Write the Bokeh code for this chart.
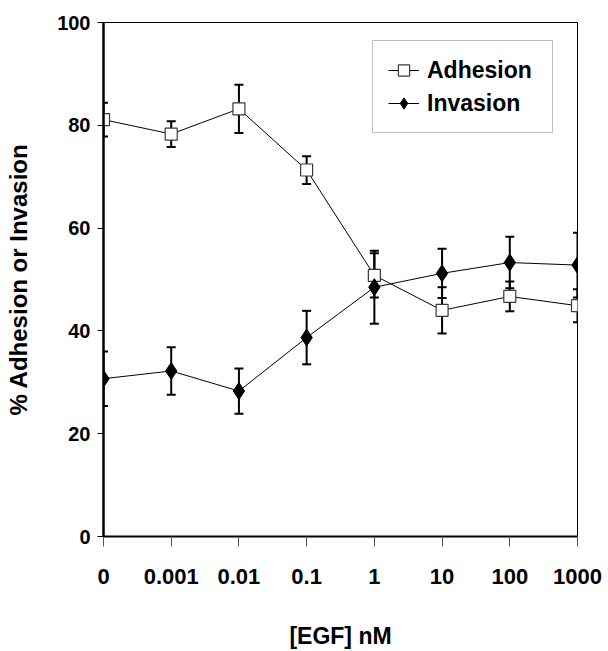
from bokeh.plotting import figure
from bokeh.models import FixedTicker, ColumnDataSource, Legend, LegendItem, Range1d
from bokeh.embed import file_html
from bokeh.resources import INLINE

categories = ["0", "0.001", "0.01", "0.1", "1", "10", "100", "1000"]
adhesion = [81.1, 78.3, 83.2, 71.3, 50.8, 44.0, 46.7, 44.9]
adhesion_err = [3.3, 2.5, 4.7, 2.7, 4.3, 4.5, 2.9, 3.2]
invasion = [30.7, 32.2, 28.3, 38.7, 48.5, 51.2, 53.3, 52.8]
invasion_err = [5.3, 4.6, 4.4, 5.2, 7.1, 4.8, 5.0, 6.3]
y_ticks = [0, 20, 40, 60, 80, 100]

FONT = "Liberation Sans"
xs = list(range(len(categories)))

def src(vals, errs):
    return ColumnDataSource(dict(
        x=xs, y=vals,
        lo=[v - e for v, e in zip(vals, errs)],
        hi=[v + e for v, e in zip(vals, errs)],
    ))

sa = src(adhesion, adhesion_err)
si = src(invasion, invasion_err)

p = figure(width=608, height=651, output_backend="svg", toolbar_location=None,
           x_range=Range1d(0, len(categories) - 1), y_range=Range1d(0, 100),
           min_border_left=103, min_border_right=31, min_border_top=22,
           min_border_bottom=114)
p.grid.visible = False
p.outline_line_color = "black"
p.outline_line_width = 1
p.background_fill_color = "white"
p.border_fill_color = "white"

# error bars
for s in (sa, si):
    p.segment(x0="x", y0="lo", x1="x", y1="hi", source=s, line_color="black", line_width=2)
    p.scatter(x="x", y="lo", source=s, marker="dash", size=9, line_color="black", line_width=2)
    p.scatter(x="x", y="hi", source=s, marker="dash", size=9, line_color="black", line_width=2)

la = p.line(x="x", y="y", source=sa, line_color="black", line_width=1)
li = p.line(x="x", y="y", source=si, line_color="black", line_width=1)
ma = p.scatter(x="x", y="y", source=sa, marker="square", size=12,
               fill_color="white", line_color="#3a3a3a", line_width=1.2)
mi = p.scatter(x="x", y="y", source=si, marker="diamond", size=17,
               fill_color="black", line_color="black")

# axes
xa = p.xaxis[0]
xa.ticker = FixedTicker(ticks=xs)
xa.major_label_overrides = {i: c for i, c in enumerate(categories)}
xa.minor_tick_line_color = None
xa.major_tick_out = 10
xa.major_tick_in = 0
xa.major_tick_line_color = "#555555"
xa.axis_line_width = 2
xa.major_label_standoff = 22
xa.major_label_text_font = FONT
xa.major_label_text_font_style = "bold"
xa.major_label_text_font_size = "22px"
xa.major_label_text_color = "black"
xa.axis_label = "[EGF] nM"
xa.axis_label_text_font = FONT
xa.axis_label_text_font_style = "bold"
xa.axis_label_text_font_size = "23px"
xa.axis_label_text_color = "black"
xa.axis_label_standoff = 36

ya = p.yaxis[0]
ya.ticker = FixedTicker(ticks=y_ticks)
ya.minor_tick_line_color = None
ya.major_tick_out = 6
ya.major_tick_in = 0
ya.axis_line_width = 2.5
ya.major_label_standoff = 7
ya.major_label_text_font = FONT
ya.major_label_text_font_style = "bold"
ya.major_label_text_font_size = "20px"
ya.major_label_text_color = "black"
ya.axis_label = "% Adhesion or Invasion"
ya.axis_label_text_font = FONT
ya.axis_label_text_font_style = "bold"
ya.axis_label_text_font_size = "24px"
ya.axis_label_text_color = "black"
ya.axis_label_standoff = 22

legend = Legend(items=[
    LegendItem(label="Adhesion", renderers=[la, ma]),
    LegendItem(label="Invasion", renderers=[li, mi]),
], location=(269, 403))
legend.border_line_color = "#808080"
legend.border_line_width = 1.5
legend.background_fill_color = "white"
legend.background_fill_alpha = 1
legend.label_text_font = FONT
legend.label_text_font_style = "bold"
legend.label_text_font_size = "23px"
legend.label_text_color = "black"
legend.glyph_width = 31
legend.glyph_height = 28
legend.label_height = 28
legend.label_width = 110
legend.label_standoff = 8
legend.spacing = 5
legend.padding = 15
legend.margin = 0
p.add_layout(legend, "center")

open("out.html", "w").write(file_html(p, INLINE))
